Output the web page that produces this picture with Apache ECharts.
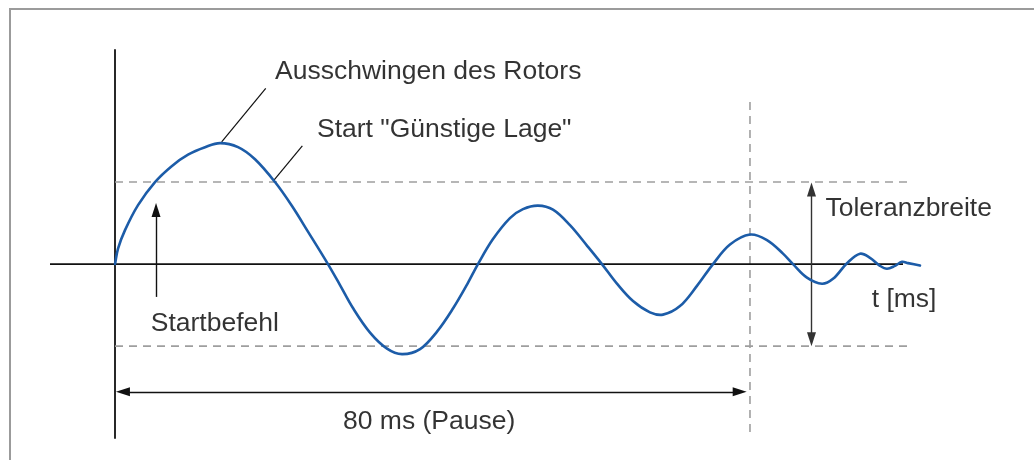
<!DOCTYPE html>
<html><head><meta charset="utf-8">
<script src="https://cdn.jsdelivr.net/npm/echarts@6/dist/echarts.min.js"></script>
<style>
html,body{margin:0;padding:0;background:#fff}
#wrap{position:relative;width:1034px;height:460px;overflow:hidden}
#c{width:1034px;height:460px}
#frame{position:absolute;left:9px;top:8px;width:1100px;height:500px;border:2px solid #9b9b9b;box-sizing:border-box;pointer-events:none}
</style>
</head><body>
<div id="wrap"><div id="c"></div><div id="frame"></div></div>
<script>
// Rotor deflection curve (t in ms, deflection in units where tolerance band = ±10)
const timeMs = [0,0.38,1.26,2.90,5.04,7.18,9.20,11.34,13.23,15.50,17.64,20.16,22.30,24.31,26.83,28.35,29.98,32.13,34.27,36.16,38.43,40.57,42.58,44.35,45.73,47.62,49.76,51.40,53.29,55.18,57.32,59.46,61.35,63.24,65.26,67.40,69.04,71.18,73.32,75.34,77.48,80.0,82.14,84.16,85.42,87.18,89.07,90.46,92.22,93.86,95.12,96.38,97.26,98.27,99.15,99.91,101.42];
const deflection = [0,1.89,4.14,7.19,10.0,11.97,13.34,14.25,14.75,14.26,12.78,10.0,7.08,3.96,0,-2.56,-5.36,-8.35,-10.30,-10.97,-10.36,-8.23,-5.42,-2.50,0,3.05,5.61,6.70,7.13,6.64,4.75,2.26,0,-2.39,-4.51,-5.88,-6.16,-5.12,-2.66,0,2.38,3.60,2.93,1.28,0,-1.65,-2.40,-1.80,0.1,1.26,0.77,-0.21,-0.57,-0.21,0.28,0.12,-0.18];

// Axis extents
const xMin = -8.19, xMax = 102;
const yMin = -21.2, yMax = 26.1;
const zeroLineEnd = 99.28;

// Tolerance band and pause
const toleranceUpper = 10;
const toleranceLower = -10;
const toleranceEndMs = 100.16;
const pauseMs = 80;
const pauseLineTop = 19.75;
const pauseLineBottom = -20.97;

// Annotation texts and their anchors (data coordinates)
const labelTexts = ['Ausschwingen des Rotors', 'Start "Günstige Lage"', 'Startbefehl', 'Toleranzbreite', 't [ms]', '80 ms (Pause)'];
const labelT = [20.16, 25.45, 4.50, 89.51, 95.33, 39.58];
const labelV = [23.45, 16.33, -7.25, 6.8, -4.35, -19.22];

// Leader lines (from text to curve)
const leaderFrom = [[18.99, 21.42], [23.6, 14.42]];
const leaderTo = [[13.44, 14.91], [20.03, 10.24]];

// Arrows (symbol centres)
const pauseArrowV = -15.57;
const pauseArrowFrom = 1.0;
const pauseArrowTo = 78.7;
const toleranceArrowT = 87.75;
const toleranceArrowTop = 9.1;
const toleranceArrowBottom = -9.15;
const startArrowT = 5.17;
const startArrowFromV = -4.0;
const startArrowToV = 6.6;

const FONT = '"Liberation Sans", Arial, sans-serif';
const curveData = timeMs.map((t, i) => [t, deflection[i]]);

// Smooth path (chord-weighted Catmull-Rom style) through points already mapped by the axes
function smoothPath(pts, s) {
  const dist = (a, b) => Math.hypot(b[0] - a[0], b[1] - a[1]);
  let d = 'M' + pts[0][0] + ',' + pts[0][1];
  for (let i = 0; i < pts.length - 1; i++) {
    const p0 = pts[i - 1] || pts[i], p1 = pts[i], p2 = pts[i + 1], p3 = pts[i + 2] || pts[i + 1];
    const l1 = dist(p0, p1), l2 = dist(p1, p2), l3 = dist(p2, p3);
    const r1 = (l1 + l2) ? l2 / (l1 + l2) : 0;
    const r2 = (l2 + l3) ? l2 / (l2 + l3) : 0;
    const c1x = p1[0] + (p2[0] - p0[0]) * s * r1, c1y = p1[1] + (p2[1] - p0[1]) * s * r1;
    const c2x = p2[0] - (p3[0] - p1[0]) * s * r2, c2y = p2[1] - (p3[1] - p1[1]) * s * r2;
    d += ' C' + c1x + ',' + c1y + ' ' + c2x + ',' + c2y + ' ' + p2[0] + ',' + p2[1];
  }
  return d;
}

const chart = echarts.init(document.getElementById('c'));
const dashStyle = {color: '#9e9e9e', width: 1.6, type: [8, 6]};

const leaderLines = leaderFrom.map((f, i) => [
  {coord: f, symbol: 'none', lineStyle: {color: '#111', width: 1.2, type: 'solid'}},
  {coord: leaderTo[i], symbol: 'none'}
]);
const arrowLines = [
  [{coord: [pauseArrowFrom, pauseArrowV], symbol: 'triangle', lineStyle: {color: '#111', width: 1.4, type: 'solid'}},
   {coord: [pauseArrowTo, pauseArrowV], symbol: 'triangle'}],
  [{coord: [toleranceArrowT, toleranceArrowTop], symbol: 'triangle', lineStyle: {color: '#333', width: 1.4, type: 'solid'}},
   {coord: [toleranceArrowT, toleranceArrowBottom], symbol: 'triangle'}],
  [{coord: [startArrowT, startArrowFromV], symbol: 'none', lineStyle: {color: '#111', width: 1.4, type: 'solid'}},
   {coord: [startArrowT, startArrowToV], symbol: 'triangle'}]
];

chart.setOption({
  animation: false,
  backgroundColor: '#fff',
  grid: {left: 50, right: 109.4, top: 50, bottom: 22, containLabel: false},
  xAxis: {
    type: 'value', min: xMin, max: xMax,
    axisLine: {show: false},
    axisTick: {show: false}, axisLabel: {show: false}, splitLine: {show: false}
  },
  yAxis: {
    type: 'value', min: yMin, max: yMax,
    axisLine: {show: true, onZero: true, lineStyle: {color: '#111', width: 1.8}},
    axisTick: {show: false}, axisLabel: {show: false}, splitLine: {show: false}
  },
  series: [
    {type: 'line', silent: true, showSymbol: false, z: 1,
     data: [[0, toleranceUpper], [toleranceEndMs, toleranceUpper]], lineStyle: dashStyle},
    {type: 'line', silent: true, showSymbol: false, z: 1,
     data: [[0, toleranceLower], [toleranceEndMs, toleranceLower]], lineStyle: dashStyle},
    {type: 'line', silent: true, showSymbol: false, z: 1,
     data: [[pauseMs, pauseLineTop], [pauseMs, pauseLineBottom]], lineStyle: dashStyle},
    {type: 'line', silent: true, showSymbol: false, z: 2,
     data: [[xMin, 0], [zeroLineEnd, 0]], lineStyle: {color: '#111', width: 1.8}},
    {type: 'custom', silent: true, z: 5, clip: false,
     data: curveData,
     renderItem: function (params, api) {
       if (params.dataIndex !== 0) return null;
       const pts = curveData.map(d => api.coord(d));
       return {
         type: 'path',
         shape: {pathData: smoothPath(pts, 0.36)},
         style: {stroke: '#1c5ca8', lineWidth: 2.6, fill: 'none', lineJoin: 'round', lineCap: 'round'}
       };
     }},
    {type: 'scatter', silent: true, symbolSize: 0, z: 6,
     data: labelTexts.map((s, i) => ({
       value: [labelT[i], labelV[i]], name: s,
       label: {show: true, formatter: s, position: i === 5 ? 'inside' : 'right', distance: 0,
               color: '#000', fontSize: 26.5, fontFamily: FONT}
     })),
     markLine: {silent: true, animation: false, symbolSize: [9, 14], label: {show: false},
                emphasis: {disabled: true},
                data: leaderLines.concat(arrowLines)}
    }
  ]
});
</script>
</body></html>
